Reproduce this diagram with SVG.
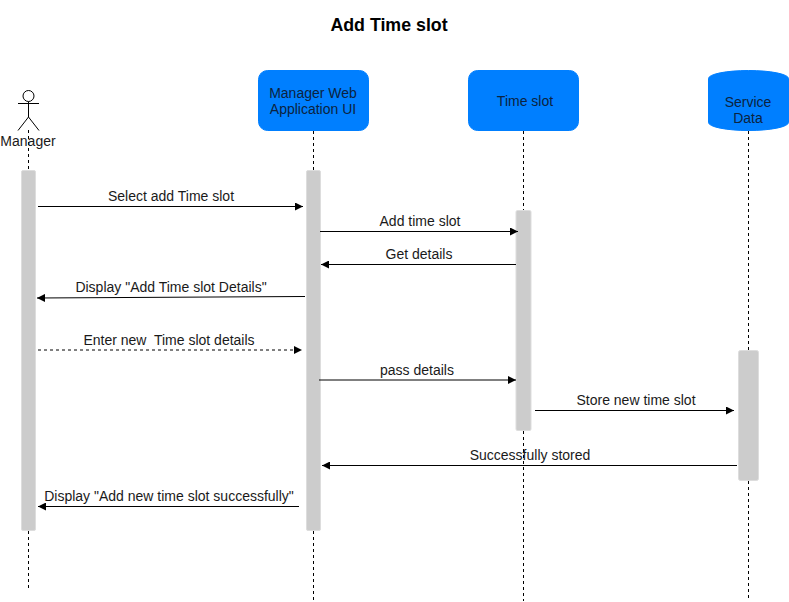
<svg xmlns="http://www.w3.org/2000/svg" width="789" height="602" viewBox="0 0 789 602">
<style>
text{font-family:"Liberation Sans",Arial,sans-serif;font-size:14px;fill:#1a1a1a;text-anchor:middle}
.head{fill:#007fff;stroke:#007fff}
.nt{fill:#0c2340}
.bar{fill:#ccc;stroke:#ddd;stroke-width:1}
.life{stroke:#000;stroke-width:1;stroke-dasharray:3 3;fill:none}
.msg{stroke:#000;stroke-width:1;fill:none;marker-end:url(#a)}
.ret{stroke-dasharray:3 3}
</style>
<defs><marker id="a" markerUnits="userSpaceOnUse" markerWidth="9" markerHeight="8" refX="8" refY="4" orient="auto"><path d="M0 0L8 4L0 8Z" fill="#000"/></marker></defs>
<rect width="789" height="602" fill="#fff"/>
<text x="389" y="31" style="font-size:17.800px;font-weight:bold;fill:#000">Add Time slot</text>
<g id="lifelines">
<path class="life" d="M28.500 130V170M28.500 531V591"/>
<path class="life" d="M313.500 131V170M313.500 531V601"/>
<path class="life" d="M523.500 131V210M523.500 431V601"/>
<path class="life" d="M748.500 131V350M748.500 481V601"/>
</g>
<g id="manager">
<g fill="none" stroke="#000"><circle cx="28.500" cy="96" r="5.500"/><path d="M28.500 101.500V117M18 103.500H39M28.500 117L18 130.500M28.500 117L39 130.500"/></g>
<text x="28" y="146">Manager</text>
<rect class="bar" x="21.500" y="170.500" width="14" height="360" rx="1.500"/>
</g>
<g id="ui">
<rect class="head" x="258.500" y="70.500" width="110" height="60" rx="9"/>
<text class="nt" x="313" y="98">Manager Web</text><text class="nt" x="313" y="114">Application UI</text>
<rect class="bar" x="306.500" y="170.500" width="14" height="360" rx="1.500"/>
</g>
<g id="timeslot">
<rect class="head" x="468.500" y="70.500" width="110" height="60" rx="9"/>
<text class="nt" x="525" y="106">Time slot</text>
<rect class="bar" x="516" y="210.500" width="15" height="220" rx="1.500"/>
</g>
<g id="service">
<path class="head" d="M708.500 78.500A40 8 0 0 1 788.500 78.500V122.500A40 8 0 0 1 708.500 122.500Z"/>
<text class="nt" x="748" y="107">Service</text><text class="nt" x="748" y="123">Data</text>
<rect class="bar" x="738.500" y="350.500" width="20" height="130" rx="2"/>
</g>
<g id="connectors">
<path class="msg" d="M38 206.500H303"/>
<path class="msg" d="M320 231.500H518"/>
<path class="msg" d="M516 264.500H321"/>
<path class="msg" d="M305 296.500L37 298"/>
<path class="msg ret" d="M38 350H302"/>
<path class="msg" d="M319 380H516"/>
<path class="msg" d="M535 410.500H734"/>
<path class="msg" d="M737 465.500H322"/>
<path class="msg" d="M299 506.500L38 506.500"/>
</g>
<g id="labels">
<text x="171" y="201">Select add Time slot</text>
<text x="420" y="226">Add time slot</text>
<text x="419" y="259">Get details</text>
<text x="171" y="292">Display "Add Time slot Details"</text>
<text x="169" y="345" xml:space="preserve">Enter new  Time slot details</text>
<text x="417" y="375">pass details</text>
<text x="636" y="405">Store new time slot</text>
<text x="530" y="460">Successfully stored</text>
<text x="169" y="501">Display "Add new time slot successfully"</text>
</g>
</svg>
